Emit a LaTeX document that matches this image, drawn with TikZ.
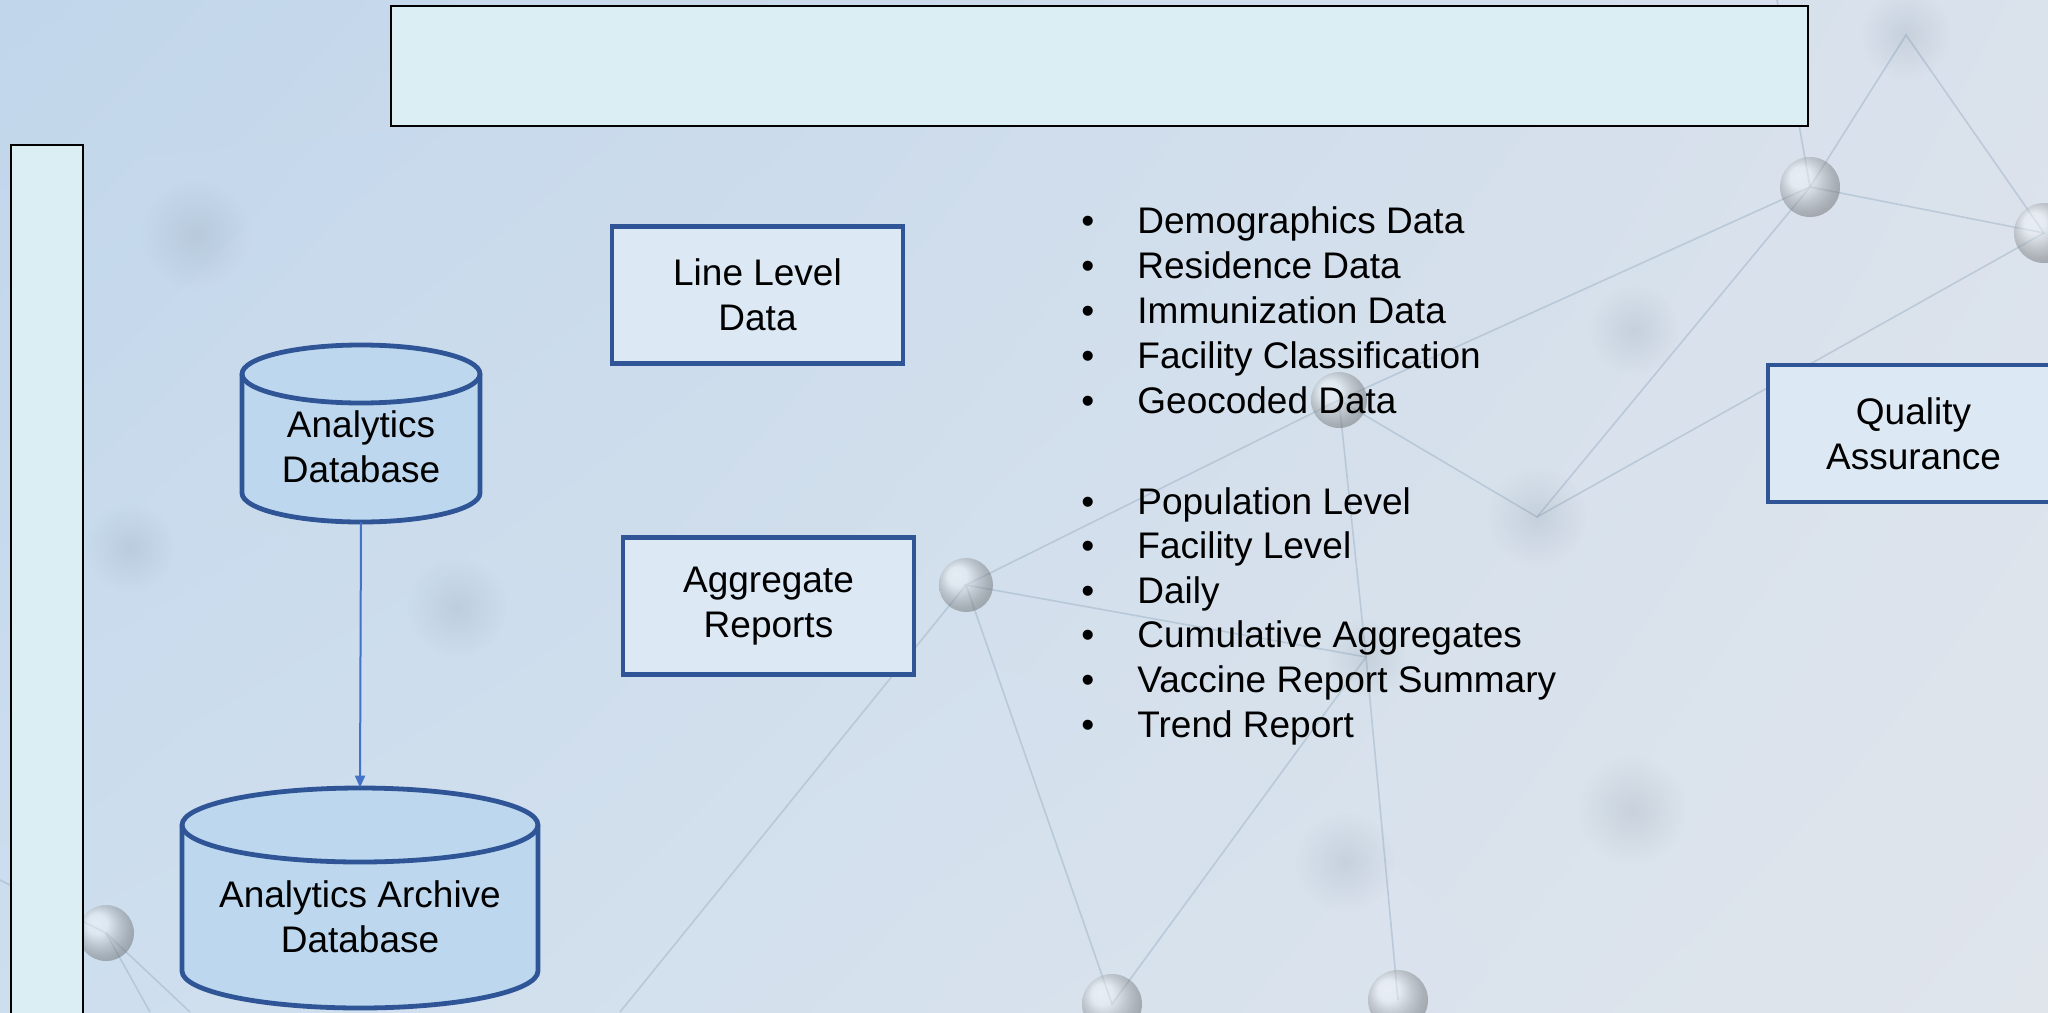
\documentclass[tikz,border=0pt]{standalone}
\usepackage{fontspec}
\setmainfont{Liberation Sans}
\usepackage{xcolor}
\usetikzlibrary{positioning,arrows.meta,fadings,shadings}
\definecolor{boxblue}{HTML}{2F5597}
\definecolor{boxfill}{HTML}{DCE8F4}
\definecolor{dbfill}{HTML}{BDD7EE}
\definecolor{panelfill}{HTML}{DAEEF3}
\definecolor{arrowblue}{HTML}{4472C4}
\definecolor{netgrey}{HTML}{9DB2C6}
\definecolor{bgul}{RGB}{193,214,235}
\definecolor{bgur}{RGB}{218,226,236}
\definecolor{bgll}{RGB}{205,222,238}
\definecolor{bglr}{RGB}{224,229,236}
\tikzfading[name=softedge, inner color=transparent!0, outer color=transparent!100]
\newcommand{\ball}[3]{
	% x y radius : glass sphere in focus
	\shade[ball color=white!80!netgrey, opacity=0.45] (#1,#2) circle (#3);
}
\newcommand{\blur}[3]{
	% x y radius : sphere out of focus
	\fill[netgrey!75!black, path fading=softedge, opacity=0.18] (#1,#2) circle (#3);
}
\newcommand{\database}[5]{
	% x top halfwidth bottom ellipse
	\filldraw[dbline] (#1-#3,#2-#5) -- (#1-#3,#4+#5) arc[start angle=180, end angle=360, x radius=#3, y radius=#5]
		-- (#1+#3,#2-#5) arc[start angle=0, end angle=180, x radius=#3, y radius=#5] -- cycle;
	%
	\draw[dbline, fill=none] (#1-#3,#2-#5) arc[start angle=180, end angle=360, x radius=#3, y radius=#5];
}
\newcommand{\bul}{\makebox[28pt][l]{\textbullet}}

\begin{document}
\begin{tikzpicture}[x=0.5pt, y=0.5pt,
	every node/.style={font=\fontsize{18.5}{22.5}\selectfont},
	databox/.style={draw=boxblue, line width=2.4pt, fill=boxfill, align=center, minimum width=145.5pt, minimum height=68.5pt, inner sep=0pt},
	panel/.style={draw=black, line width=1pt, fill=panelfill, inner sep=0pt},
	dbline/.style={draw=boxblue, line width=2.4pt, fill=dbfill},
	dblabel/.style={align=center, inner sep=0pt},
	item/.style={anchor=base west, inner sep=0pt},
	flow/.style={draw=arrowblue, line width=1pt, -{Triangle[length=6pt, width=5pt]}},
	net/.style={draw=netgrey, line width=0.8pt, opacity=0.5}]
	\clip (0,0) rectangle (2048,-1012);
	% background
	\shade[upper left=bgul, upper right=bgur, lower left=bgll, lower right=bglr] (0,0) rectangle (2048,-1012);
	%
	% network
	\draw[net] (1810,-187) -- (1906,-35) -- (2044,-233) -- cycle;
	\draw[net] (1810,-187) -- (1777,0);
	\draw[net] (1810,-187) -- (1339,-400) -- (966,-585) -- (1366,-657) -- (1339,-400) -- (1537,-517) -- (1810,-187);
	\draw[net] (2044,-233) -- (1537,-517);
	\draw[net] (966,-585) -- (1112,-1004) -- (1366,-657) -- (1398,-1000);
	\draw[net] (966,-585) -- (620,-1012);
	\draw[net] (0,-880) -- (106,-933) -- (190,-1012);
	\draw[net] (106,-933) -- (150,-1012);
	\blur{1906}{-35}{45}
	\blur{1634}{-330}{45}
	\blur{1537}{-517}{50}
	\blur{1632}{-810}{55}
	\blur{1345}{-862}{50}
	\blur{1366}{-657}{40}
	\blur{196}{-235}{55}
	\blur{457}{-607}{50}
	\blur{130}{-548}{45}
	\ball{1810}{-187}{30}
	\ball{2044}{-233}{30}
	\ball{1339}{-400}{28}
	\ball{966}{-585}{27}
	\ball{106}{-933}{28}
	\ball{1112}{-1004}{30}
	\ball{1398}{-1000}{30}
	%
	% panels
	\node[panel, minimum width=708.5pt, minimum height=60pt] (titlebox) at (1099.5,-66) {};
	\node[panel, minimum width=36pt, minimum height=470pt] (sidebar) at (47,-615) {};
	%
	% databases
	\database{361}{-345}{119}{-522}{29}
	\database{360}{-788}{178}{-1008}{37}
	\node[dblabel, minimum width=119pt, minimum height=75pt] (adb) at (361,-447) {Analytics\\Database};
	\node[dblabel, minimum width=178pt, minimum height=128.5pt] (archdb) at (360,-916.5) {Analytics Archive\\Database};
	\draw[flow] (adb.south) -- (archdb.north);
	%
	% boxes
	\node[databox] (linedata) at (757.5,-295) {Line Level\\Data};
	\node[databox] (aggreports) at (768.5,-606) {Aggregate\\Reports};
	\node[databox] (qa) at (1913.5,-433.5) {Quality\\Assurance};
	%
	% lists
	\foreach \txt [count=\i] in {Demographics Data, Residence Data, Immunization Data, Facility Classification, Geocoded Data}
		\node[item] (line\i) at (1081,{-233-45*(\i-1)}) {\bul\txt};
	\foreach \txt [count=\i] in {Population Level, Facility Level, Daily, Cumulative Aggregates, Vaccine Report Summary, Trend Report}
		\node[item] (agg\i) at (1081,{-514-44.6*(\i-1)}) {\bul\txt};
\end{tikzpicture}
\end{document}
